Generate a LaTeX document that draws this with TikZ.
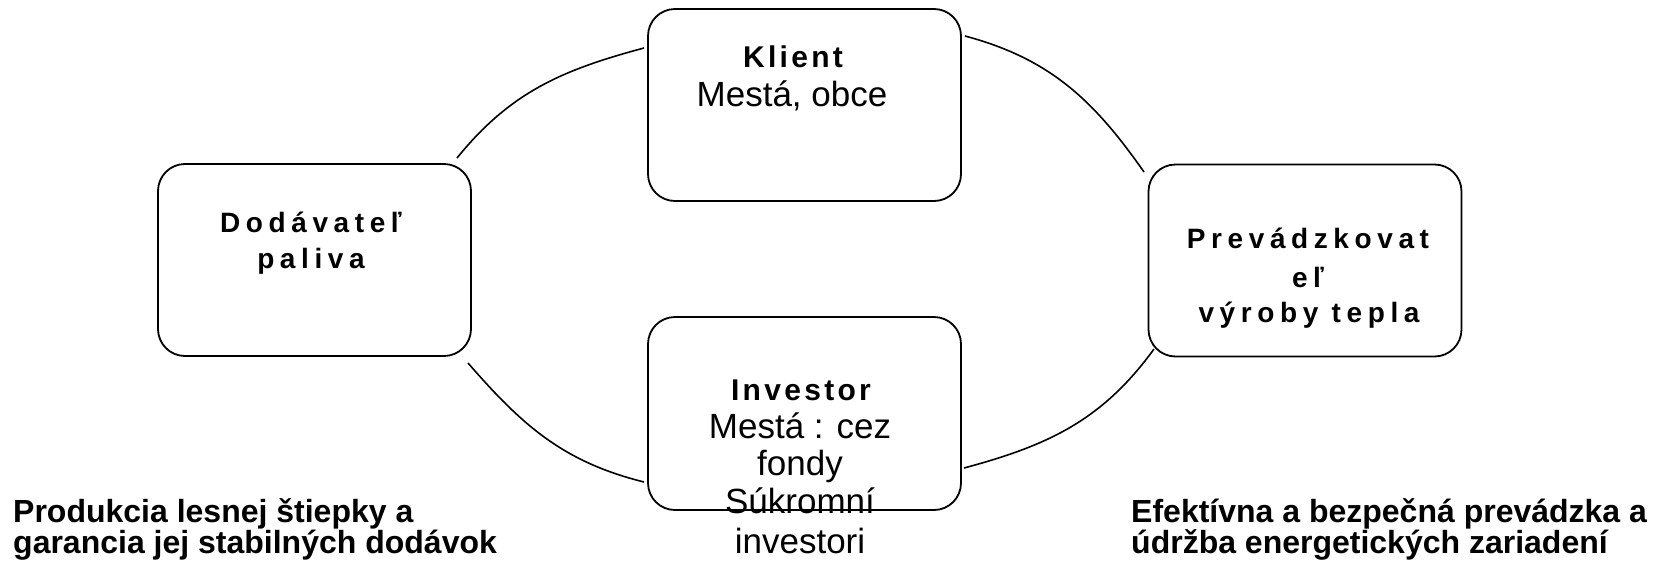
\documentclass[tikz,border=0pt]{standalone}
\usepackage{fontspec}
\setmainfont{Liberation Sans}
\newfontfamily\spwide[LetterSpace=20]{Liberation Sans}
\newfontfamily\spnarrow[LetterSpace=11]{Liberation Sans}
\begin{document}
\begin{tikzpicture}[x=1pt,y=-1pt,
  box/.style={draw, line width=1.8pt, rounded corners=27pt, minimum width=313pt, minimum height=192pt, inner sep=0pt},
  link/.style={line width=1.6pt},
  headwide/.style={font=\spwide\bfseries\fontsize{28}{28}\selectfont, anchor=base, inner sep=0pt},
  headnarrow/.style={font=\spnarrow\bfseries\fontsize{30}{30}\selectfont, anchor=base, inner sep=0pt},
  body/.style={font=\fontsize{35}{35}\selectfont, anchor=base, inner sep=0pt},
  note/.style={font=\bfseries\fontsize{32}{32}\selectfont, anchor=base west, inner sep=0pt}
]
\useasboundingbox (0,0) rectangle (1663,565);
\fill[white] (0,0) rectangle (1663,565);

% boxes
\node[box] (klient) at (804.5,105) {};
\node[box] (dodav) at (314.5,260) {};
\node[box] (prevad) at (1305,260.5) {};
\node[box, minimum height=193pt] (invest) at (804.5,413.5) {};

% arc end points
\coordinate (a1) at (457,158);
\coordinate (a2) at (644,48);
\coordinate (b1) at (965,36);
\coordinate (b2) at (1144,172);
\coordinate (c1) at (1154,349);
\coordinate (c2) at (964,468);
\coordinate (d1) at (644,482);
\coordinate (d2) at (468,363);

\draw[link] (a1) to[out=51,in=195] (a2);
\draw[link] (b1) to[out=-15,in=125] (b2);
\draw[link] (c1) to[out=234,in=15] (c2);
\draw[link] (d1) to[out=166,in=-49] (d2);

% box texts
\node[headnarrow] (t1) at (793,67) {Klient};
\node[body] (t2) at (792,106) {Mestá, obce};

\node[headwide] (t3) at (311,232) {Dodávateľ};
\node[headwide] (t4) at (311,268) {paliva};

\node[headwide] (t5) at (1308,248) {Prevádzkovat};
\node[headwide] (t6) at (1308,287) {eľ};
\node[headwide] (t7) at (1309,322) {výroby tepla};

\node[headnarrow] (t8) at (801,400) {Investor};
\node[body] (t9) at (800,438) {Mestá : cez};
\node[body] (t10) at (800,475) {fondy};
\node[body] (t11) at (800,513) {Súkromní};
\node[body] (t12) at (800,553) {investori};

% notes
\node[note] (n1) at (13,522) {Produkcia lesnej štiepky a};
\node[note] (n2) at (13,553) {garancia jej stabilných dodávok};
\node[note] (n3) at (1131,522) {Efektívna a bezpečná prevádzka a};
\node[note] (n4) at (1131,553) {údržba energetických zariadení};
\end{tikzpicture}
\end{document}
